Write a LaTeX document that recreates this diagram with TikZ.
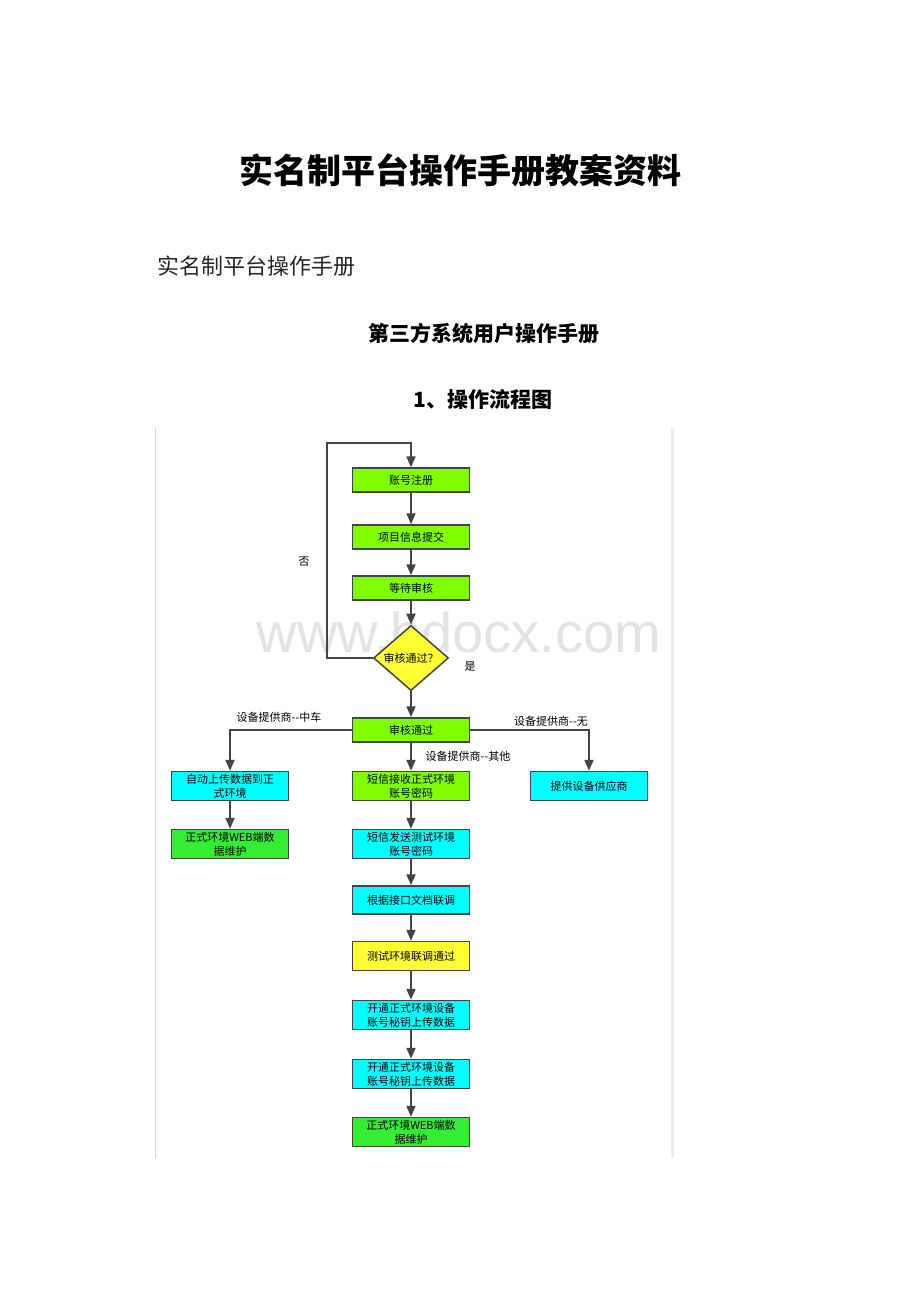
\documentclass[tikz,border=0pt]{standalone}
\usepackage{fontspec}
\usepackage{tikz}
\usetikzlibrary{shapes.geometric,arrows.meta}
\setmainfont{Noto Sans CJK SC}
\newfontfamily\wmfont{Liberation Sans}

\definecolor{limebox}{HTML}{80FF00}
\definecolor{greenbox}{HTML}{33EE33}
\definecolor{cyanbox}{HTML}{00FFFF}
\definecolor{yellowbox}{HTML}{FFFF33}
\definecolor{edgegray}{HTML}{444444}

\tikzset{
  box/.style={rectangle, draw=edgegray, line width=1.5pt, minimum width=117pt, minimum height=24pt,
    inner sep=1pt, align=center, font=\fontsize{11}{14}\selectfont},
  arr/.style={draw=edgegray, line width=2pt, -{Triangle[length=11pt,width=9pt]}},
  lbl/.style={font=\fontsize{11}{14}\selectfont, inner sep=0pt}
}

\begin{document}
\begin{tikzpicture}[x=1pt,y=-1pt]
    \fill[white] (0,0) rectangle (920,1302);
    \useasboundingbox (0,0) rectangle (920,1302);

    % page text
    \node (title) at (460,170) {\fontsize{34}{40}\selectfont\bfseries 实名制平台操作手册教案资料};
    \node[anchor=west, inner sep=0pt, text=black!85] (sub) at (157,266) {\fontsize{22}{26}\selectfont 实名制平台操作手册};
    \node (head) at (484,333) {\fontsize{21}{26}\selectfont\bfseries 第三方系统用户操作手册};
    \node (sec) at (483,400) {\fontsize{21}{26}\selectfont\bfseries 1、操作流程图};

    % frame of the picture
    \draw[black!16, line width=1pt] (155,428) -- (155,1158);
    \draw[black!7, line width=3pt] (672,428) -- (672,1158);

    % watermark
    \node[anchor=base, inner sep=0pt, text=black!11] (wm) at (459,652) {\wmfont\fontsize{56}{60}\selectfont www.bdocx.com};

    % main column
    \node[box, fill=limebox] (reg) at (411,480) {账号注册};
    \node[box, fill=limebox] (info) at (411,537) {项目信息提交};
    \node[box, fill=limebox] (wait) at (411,588) {等待审核};
    \node[diamond, draw=edgegray, line width=1.5pt, fill=yellowbox, minimum width=75pt, minimum height=59pt,
      inner sep=0pt, font=\fontsize{11}{14}\selectfont] (dia) at (411,658) {审核通过？};
    \node[box, fill=limebox] (pass) at (411,730) {审核通过};
    \node[box, fill=cyanbox, minimum height=29pt] (auto) at (230,786) {自动上传数据到正\\式环境};
    \node[box, fill=limebox, minimum height=29pt] (sms1) at (411,786) {短信接收正式环境\\账号密码};
    \node[box, fill=cyanbox, minimum height=29pt] (supp) at (589,786) {提供设备供应商};
    \node[box, fill=greenbox, minimum height=29pt] (web1) at (230,844) {正式环境WEB端数\\据维护};
    \node[box, fill=cyanbox, minimum height=29pt] (sms2) at (411,844) {短信发送测试环境\\账号密码};
    \node[box, fill=cyanbox, minimum height=28pt] (doc) at (411,900) {根据接口文档联调};
    \node[box, fill=yellowbox, minimum height=29pt] (test) at (411,956) {测试环境联调通过};
    \node[box, fill=cyanbox, minimum height=29pt] (open1) at (411,1015) {开通正式环境设备\\账号秘钥上传数据};
    \node[box, fill=cyanbox, minimum height=29pt] (open2) at (411,1074) {开通正式环境设备\\账号秘钥上传数据};
    \node[box, fill=greenbox, minimum height=29pt] (web2) at (411,1132) {正式环境WEB端数\\据维护};

    \coordinate (loop) at (327,443);

    % connectors
    \draw[arr] (dia.west) -| (loop) -| (reg.north);
    \draw[arr] (reg) -- (info);
    \draw[arr] (info) -- (wait);
    \draw[arr] (wait) -- (dia);
    \draw[arr] (dia) -- (pass);
    \draw[arr] (pass.west) -| (auto.north);
    \draw[arr] (pass.east) -| (supp.north);
    \draw[arr] (pass) -- (sms1);
    \draw[arr] (auto) -- (web1);
    \draw[arr] (sms1) -- (sms2);
    \draw[arr] (sms2) -- (doc);
    \draw[arr] (doc) -- (test);
    \draw[arr] (test) -- (open1);
    \draw[arr] (open1) -- (open2);
    \draw[arr] (open2) -- (web2);

    % labels
    \node[lbl] (no) at (304,562) {否};
    \node[lbl] (yes) at (470,667) {是};
    \node[lbl] (crrc) at (279,717) {设备提供商-{}-中车};
    \node[lbl] (none) at (551,721) {设备提供商-{}-无};
    \node[lbl] (other) at (468,756) {设备提供商-{}-其他};
\end{tikzpicture}
\end{document}
